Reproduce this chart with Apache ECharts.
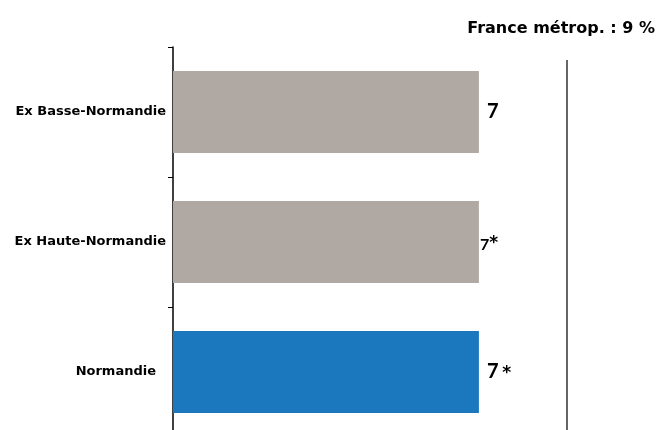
<!DOCTYPE html>
<html><head><meta charset="utf-8">
<script src="https://cdn.jsdelivr.net/npm/echarts@6/dist/echarts.min.js"></script>
<style>html,body{margin:0;padding:0;background:#fff;overflow:hidden}#c{width:662px;height:440px}</style>
</head><body><div id="c"></div>
<script>
const categories = ['Ex Basse-Normandie', 'Ex Haute-Normandie', 'Normandie'];
const values = [7, 7, 7];
const valueLabels = ['7', '7*', '7 *'];
const refValue = 9;
const refLabel = 'France métrop. : 9 %';

const FONT = 'DejaVu Sans';
const chart = echarts.init(document.getElementById('c'));
const barColors = ['#B0A8A3', '#B0A8A3', '#1B78BE'];
const labelRich = [
  {formatter: '{a|' + valueLabels[0] + '}'},
  {formatter: '{s|7}{t|*}', distance: 1},
  {formatter: '{a|7} {t|*}'}
];
chart.setOption({
  animation: false,
  textStyle: {fontFamily: FONT},
  title: {text: refLabel, right: 2, top: 16,
    textStyle: {fontFamily: FONT, fontWeight: 'bold', fontSize: 16, color: '#000'}},
  grid: [
    {left: 173, top: 47, width: 437, height: 390, containLabel: false},
    {left: 173, top: 60, width: 437, height: 377, containLabel: false}
  ],
  xAxis: [
    {gridIndex: 0, type: 'value', min: 0, max: 10, show: false},
    {gridIndex: 1, type: 'value', min: 0, max: 10, show: false}
  ],
  yAxis: [
    {gridIndex: 0, type: 'category', inverse: true,
      data: categories.map((c, i) => i === 2 ? {value: c, textStyle: {padding: [0, 10, 0, 0]}} : c),
      axisLine: {show: true, lineStyle: {color: '#000', width: 1.5}},
      axisTick: {show: true, interval: 0, length: 5, lineStyle: {color: '#000', width: 1}},
      axisLabel: {fontFamily: FONT, fontWeight: 'bold', fontSize: 13, color: '#000', margin: 7}},
    {gridIndex: 1, type: 'category', data: [''], show: false}
  ],
  series: [
    {type: 'bar', xAxisIndex: 0, yAxisIndex: 0, barCategoryGap: '37%',
      data: values.map((v, i) => ({value: v, itemStyle: {color: barColors[i]},
        label: labelRich[i]})),
      label: {show: true, position: 'right', distance: 8, color: '#000',
        rich: {
          a: {fontFamily: 'Lato', fontWeight: 'bold', fontSize: 20, color: '#000'},
          s: {fontFamily: 'Lato', fontWeight: 'bold', fontSize: 16, color: '#000', padding: [5, 0, 0, 0]},
          t: {fontFamily: 'DejaVu Sans', fontWeight: 'bold', fontSize: 17, color: '#000', padding: [4, 0, 0, 0]}
        }}
    },
    {type: 'bar', xAxisIndex: 1, yAxisIndex: 1, data: [null], silent: true,
      markLine: {symbol: 'none', silent: true, label: {show: false},
        lineStyle: {color: '#333', width: 1.5, type: 'solid'},
        data: [{xAxis: refValue}]}}
  ]
});
</script></body></html>
